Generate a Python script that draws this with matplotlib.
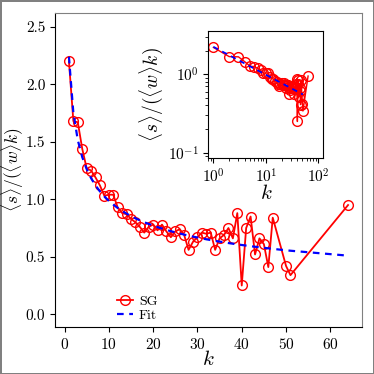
import numpy as np
import matplotlib
matplotlib.use("Agg")
import matplotlib.pyplot as plt

plt.rcParams["font.family"] = "serif"
plt.rcParams["font.serif"] = ["cmr10"]
plt.rcParams["mathtext.fontset"] = "cm"
plt.rcParams["axes.formatter.use_mathtext"] = True
plt.rcParams["axes.unicode_minus"] = False

# data
k = [1, 2, 3, 4, 5, 6, 7, 8, 9, 10, 11, 12, 13, 14, 15, 16, 17, 18, 19, 20,
     21, 22, 23, 24, 25, 26, 27, 28, 29, 30, 31, 32, 33, 34, 35, 36, 37, 38,
     39, 40, 41, 42, 43, 44, 45, 46, 47, 50, 51, 64]
sg = [2.20, 1.68, 1.67, 1.44, 1.27, 1.25, 1.19, 1.12, 1.03, 1.04, 1.04, 0.93,
      0.88, 0.87, 0.83, 0.80, 0.76, 0.71, 0.76, 0.78, 0.73, 0.78, 0.72, 0.67,
      0.72, 0.74, 0.69, 0.56, 0.63, 0.67, 0.71, 0.70, 0.71, 0.56, 0.66, 0.69,
      0.75, 0.66, 0.88, 0.25, 0.75, 0.85, 0.52, 0.66, 0.61, 0.41, 0.84, 0.42,
      0.34, 0.95]

# power-law fit parameters
fit_a = 2.24
fit_b = -0.356

k = np.array(k)
sg = np.array(sg)
fit = fit_a * k.astype(float) ** fit_b

ylab = r"$\langle s\rangle/(\langle w\rangle k)$"

fig = plt.figure(figsize=(3.74, 3.74), dpi=100)
fig.patch.set_edgecolor("0.5")
fig.patch.set_linewidth(2)

ax = fig.add_axes([0.147, 0.126, 0.821, 0.839])
ax.plot(k, sg, "-o", color="red", mfc="none", ms=7, lw=1.3, mew=1.0, label="SG")
ax.plot(k, fit, "--", color="blue", lw=1.6, dashes=(3, 2.5), label="Fit")
ax.set_ylim(-0.11, 2.62)
ax.set_xticks([0, 10, 20, 30, 40, 50, 60])
ax.set_yticks([0.0, 0.5, 1.0, 1.5, 2.0, 2.5])
ax.set_yticklabels(["0.0", "0.5", "1.0", "1.5", "2.0", "2.5"])
ax.tick_params(direction="out", labelsize=11, top=False, right=False)
ax.set_xlabel(r"$k$", fontsize=15, labelpad=-1)
ax.set_ylabel(ylab, fontsize=12.5, labelpad=0)
ax.spines["top"].set_color("0.5")
ax.spines["right"].set_color("0.5")
ax.legend(loc="lower left", bbox_to_anchor=(0.16, -0.025), frameon=False,
          fontsize=10, handlelength=1.2, handletextpad=0.4, labelspacing=0.1)

ins = fig.add_axes([0.557, 0.578, 0.3075, 0.339])
ins.loglog(k, sg, "-o", color="red", mfc="none", ms=7, lw=1.0, mew=1.0)
ins.loglog(k[:-1], fit[:-1], "--", color="blue", lw=1.3, dashes=(3, 2.5))
ins.set_xlim(0.8, 125)
ins.set_ylim(0.086, 3.56)
ins.tick_params(which="both", direction="out", labelsize=11, top=False, right=False)
ins.set_xlabel(r"$k$", fontsize=15, labelpad=-1)
ins.set_ylabel(ylab, fontsize=14, labelpad=2)

fig.savefig("out.png", dpi=100)
